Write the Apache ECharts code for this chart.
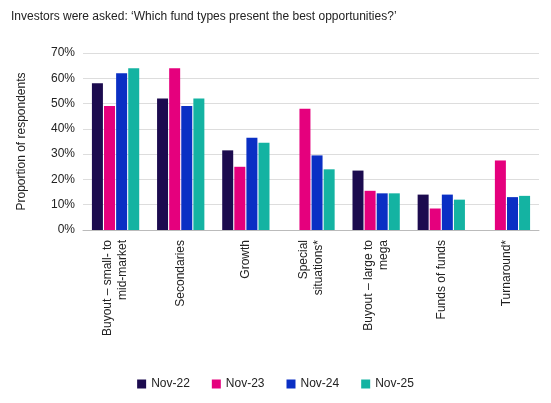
<!DOCTYPE html>
<html>
<head>
<meta charset="utf-8"/>
<script src="https://cdn.jsdelivr.net/npm/echarts@6/dist/echarts.min.js"></script>
<style>body,html{margin:0;padding:0;background:#fff}#chart{width:551px;height:403px}</style>
</head>
<body>
<div id="chart"></div>
<script>
var categories = ['Buyout – small- to\nmid-market', 'Secondaries', 'Growth', 'Special\nsituations*', 'Buyout – large to\nmega', 'Funds of funds', 'Turnaround*'];
var nov22 = [58, 52, 31.5, null, 23.5, 14, null];
var nov23 = [49, 64, 25, 48, 15.5, 8.5, 27.5];
var nov24 = [62, 49, 36.5, 29.5, 14.5, 14, 13];
var nov25 = [64, 52, 34.5, 24, 14.5, 12, 13.5];
var names = ['Nov-22', 'Nov-23', 'Nov-24', 'Nov-25'];
var colors = ['#1c0b4f', '#e5007d', '#0a2fc4', '#14b3a2'];

var chart = echarts.init(document.getElementById('chart'));
var font = 'Liberation Sans';
chart.setOption({
    color: colors,
    textStyle: {fontFamily: font},
    title: {
        text: 'Investors were asked: \u2018Which fund types present the best opportunities?\u2019',
        left: 6, top: 6,
        textStyle: {fontSize: 12, fontWeight: 'normal', color: '#222'}
    },
    legend: {
        data: names, bottom: 8, left: 'center', itemWidth: 9, itemHeight: 9, itemGap: 22,
        icon: 'rect', textStyle: {fontSize: 12, color: '#222'}
    },
    grid: {left: 83, right: 12, top: 53, bottom: 173},
    xAxis: {
        type: 'category', data: categories,
        axisTick: {show: false},
        axisLine: {lineStyle: {color: '#bbb'}},
        axisLabel: {rotate: 90, fontSize: 12, color: '#222', interval: 0, margin: 10, lineHeight: 15, align: 'right'}
    },
    yAxis: {
        type: 'value', min: 0, max: 70, interval: 10,
        name: 'Proportion of respondents', nameLocation: 'middle', nameGap: 55,
        nameTextStyle: {fontSize: 12, color: '#222'},
        axisLabel: {formatter: '{value}%', fontSize: 12, color: '#222'},
        splitLine: {lineStyle: {color: '#ddd'}}
    },
    series: names.map(function (n, i) {
        return {name: n, type: 'bar', data: [nov22, nov23, nov24, nov25][i], barWidth: 11, barGap: '10%'};
    })
});
</script>
</body>
</html>
